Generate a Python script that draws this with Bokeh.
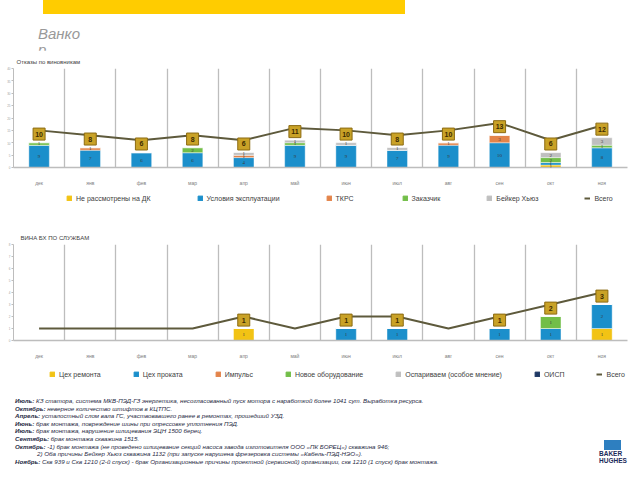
from bokeh.plotting import figure
from bokeh.models import ColumnDataSource, Range1d, FixedTicker, LabelSet, Legend, LegendItem, Div
from bokeh.core.properties import value
from bokeh.layouts import column
from bokeh.embed import file_html
from bokeh.resources import INLINE

FONT = "Liberation Sans"
NAN = float("nan")

months = ["дек", "янв", "фев", "мар", "апр", "май", "июн", "июл", "авг", "сен", "окт", "ноя"]

# ---- Top chart: Отказы по виновникам ----
top_title = "Отказы по виновникам"
top_names = ["Не рассмотрены на ДК", "Условия эксплуатации", "ТКРС", "Заказчик", "Бейкер Хьюз"]
top_ne_rassm = [0, 0, 0, 0, 0, 0, 0, 0, 0, 0, 1, 0]
top_usloviya = [9, 7, 6, 6, 4, 9, 9, 7, 9, 10, 1, 8]
top_tkrs = [0, 1, 0, 0, 1, 0, 0, 0, 1, 3, 0, 0]
top_zakazchik = [1, 0, 0, 2, 0, 1, 0, 0, 0, 0, 2, 1]
top_baker = [0, 0, 0, 0, 1, 1, 1, 1, 0, 0, 2, 3]
top_total = [10, 8, 6, 8, 6, 11, 10, 8, 10, 13, 6, 12]
top_colors = ["#F2C314", "#1B8FCB", "#E3844A", "#72BE48", "#BFBFBF"]

# ---- Bottom chart: ВИНА БХ ПО СЛУЖБАМ ----
bot_title = "ВИНА БХ ПО СЛУЖБАМ"
bot_names = ["Цех ремонта", "Цех проката", "Импульс", "Новое оборудование",
             "Оспариваем (особое мнение)", "ОИСП"]
bot_remont = [0, 0, 0, 0, 1, 0, 0, 0, 0, 0, 0, 1]
bot_prokat = [0, 0, 0, 0, 0, 0, 1, 1, 0, 1, 1, 2]
bot_impuls = [0, 0, 0, 0, 0, 0, 0, 0, 0, 0, 0, 0]
bot_novoe = [0, 0, 0, 0, 0, 0, 0, 0, 0, 0, 1, 0]
bot_osparivaem = [0, 0, 0, 0, 0, 0, 0, 0, 0, 0, 0, 0]
bot_oisp = [0, 0, 0, 0, 0, 0, 0, 0, 0, 0, 0, 0]
bot_total = [0, 0, 0, 0, 1, 0, 1, 1, 0, 1, 2, 3]
bot_colors = ["#F2C314", "#1B8FCB", "#E3844A", "#72BE48", "#BFBFBF", "#1F3864"]

LINE_COLOR = "#5E5A3C"

notes = [
    ("Июль:", " КЗ статора, система МКВ-ПЭД-ГЗ энергетика, несогласованный пуск мотора с наработкой более 1041 сут. Выработка ресурса."),
    ("Октябрь:", " неверное количество штифтов в КЦТПС."),
    ("Апрель:", " усталостный слом вала ГС, участвовавшего ранее в ремонтах, прошедший УЗД."),
    ("Июнь:", " брак монтажа, повреждение шины при опрессовке уплотнения ПЭД."),
    ("Июль:", " брак монтажа, нарушение шлицевания ЭЦН 1500 берец."),
    ("Сентябрь:", " брак монтажа скважина 1515."),
    ("Октябрь:", " -1) брак монтажа (не проведено шлицевание секций насоса завода изготовителя ООО «ПК БОРЕЦ») скважина 946;"),
    ("", "2) Оба причины Бейкер Хьюз скважина 1132 (при запуске нарушена фрезеровка системы «Кабель-ПЭД-НЭО»)."),
    ("Ноябрь:", " Скв 939 и Скв 1210 (2-й спуск) - брак Организационные причины проектной (сервисной) организации, скв 1210 (1 спуск) брак монтажа."),
]

W = 632


def make_chart(title, series, colors, total, ymax, ystep, line_offset,
               height, top_border, bottom_border, title_size, title_offset):
    x = list(range(len(months)))
    data = {"x": x, "total": total}
    keys = []
    for k, s in enumerate(series):
        data["s%d" % k] = s
        keys.append("s%d" % k)
    src = ColumnDataSource(data)

    p = figure(width=W, height=height, x_range=Range1d(-0.5, len(months) - 0.5),
               y_range=Range1d(0, ymax), output_backend="svg", toolbar_location=None,
               min_border_left=13, min_border_right=5, min_border_top=top_border,
               min_border_bottom=bottom_border, outline_line_color=None, margin=0)
    shift = ystep * 0.3
    p.extra_y_ranges = {"line": Range1d(-line_offset, ymax - line_offset),
                        "lbl": Range1d(-line_offset + shift, ymax - line_offset + shift)}

    p.title.text = title
    p.title.text_font = FONT
    p.title.text_font_size = title_size
    p.title.text_font_style = "normal"
    p.title.text_color = "#404040"
    p.title.align = "left"
    p.title.offset = title_offset
    p.title.standoff = 8

    p.ygrid.visible = False
    p.xgrid.ticker = FixedTicker(ticks=[i + 0.5 for i in range(len(months) - 1)])
    p.xgrid.grid_line_color = "#BDBDBD"
    p.xgrid.grid_line_width = 1.3

    p.xaxis.ticker = FixedTicker(ticks=x)
    p.xaxis.major_label_overrides = {i: m for i, m in enumerate(months)}
    p.xaxis.major_tick_line_color = None
    p.xaxis.minor_tick_line_color = None
    p.xaxis.axis_line_color = "#BDBDBD"
    p.xaxis.axis_line_width = 1.3
    p.xaxis.major_label_text_font = FONT
    p.xaxis.major_label_text_font_size = "5px"
    p.xaxis.major_label_text_color = "#808080"
    p.xaxis.major_label_standoff = 6

    p.yaxis.ticker = FixedTicker(ticks=list(range(0, ymax + 1, ystep)))
    p.yaxis.axis_line_color = "#BDBDBD"
    p.yaxis.major_tick_line_color = "#BDBDBD"
    p.yaxis.major_tick_out = 2
    p.yaxis.major_tick_in = 0
    p.yaxis.minor_tick_line_color = None
    p.yaxis.major_label_text_font = FONT
    p.yaxis.major_label_text_font_size = "3px"
    p.yaxis.major_label_text_color = "#A0A0A0"
    p.yaxis.major_label_standoff = 1

    p.vbar_stack(keys, x="x", width=0.4, color=colors, source=src,
                 line_color="white", line_width=0.4)
    p.line("x", "total", source=src, y_range_name="line",
           line_color=LINE_COLOR, line_width=2)

    # segment value labels
    sx, sy, st = [], [], []
    base = [0] * len(months)
    for s in series:
        for i, v in enumerate(s):
            if v > 0:
                sx.append(i)
                sy.append(base[i] + v / 2)
                st.append(str(v))
            base[i] += v
    seg_src = ColumnDataSource(dict(x=sx, y=sy, t=st))
    p.add_layout(LabelSet(x="x", y="y", text="t", source=seg_src,
                          text_align="center", text_baseline="middle",
                          text_font=FONT, text_font_size="5px", text_color="#3A3A3A"))

    # total labels (gold boxes)
    tx = [i for i, t in enumerate(total) if t > 0]
    ty = [t for t in total if t > 0]
    tt = [str(t) for t in total if t > 0]
    tot_src = ColumnDataSource(dict(x=tx, y=ty, t=tt))
    p.rect(x="x", y="y", width=12, height=12, width_units="screen", height_units="screen",
           source=tot_src, y_range_name="lbl", fill_color="#C9A227",
           line_color="#8C6B12", line_width=1)
    p.text(x="x", y="y", text="t", source=tot_src, y_range_name="lbl",
           text_align="center", text_baseline="middle", text_font=value(FONT),
           text_font_size="7px", text_font_style="bold", text_color="#3D2B00")
    return p


def make_legend(names, colors, height, loc, spacing):
    lp = figure(width=W, height=height, x_range=Range1d(0, 1), y_range=Range1d(0, 1),
                output_backend="svg", toolbar_location=None, min_border=0,
                x_axis_location=None, y_axis_location=None, outline_line_color=None,
                margin=0)
    lp.grid.visible = False
    items = []
    for n, c in zip(names, colors):
        # legend proxy with a single undefined row (draws nothing in the plot)
        r = lp.vbar(x=[NAN], top=[NAN], width=0.1, color=c)
        items.append(LegendItem(label=n, renderers=[r]))
    lr = lp.line(x=[NAN], y=[NAN], line_color=LINE_COLOR, line_width=2)
    items.append(LegendItem(label="Всего", renderers=[lr]))
    legend = Legend(items=items, orientation="horizontal", location=loc,
                    label_text_font=FONT, label_text_font_size="7px",
                    label_text_color="#404040", glyph_width=6, glyph_height=6,
                    label_standoff=4, spacing=spacing, padding=2,
                    border_line_color=None, background_fill_alpha=0, label_height=8)
    lp.add_layout(legend)
    return lp


top = make_chart(top_title,
                 [top_ne_rassm, top_usloviya, top_tkrs, top_zakazchik, top_baker],
                 top_colors, top_total, 40, 5, 5, 138, 18, 16, "6px", 3)
top_leg = make_legend(top_names, top_colors, 32, (53, 18), 46)
bottom = make_chart(bot_title,
                    [bot_remont, bot_prokat, bot_impuls, bot_novoe, bot_osparivaem, bot_oisp],
                    bot_colors, bot_total, 8, 1, 1, 141, 24, 15, "6px", 7)
bot_leg = make_legend(bot_names, bot_colors, 27, (36, 10), 32)

header = Div(width=W, height=50, margin=0, text=(
    '<div style="position:relative;width:632px;height:50px;">'
    '<div style="position:absolute;left:43px;top:0px;width:362px;height:14px;background:#FFCC00;"></div>'
    '<div style="position:absolute;left:38px;top:26px;width:44px;word-break:break-all;'
    'font-family:\'Liberation Sans\';font-style:italic;font-size:15px;line-height:16px;color:#999999;">Ванкор</div>'
    '</div>'))

lines_html = []
for k, (b, t) in enumerate(notes):
    left = 37 if b == "" else 15
    top_px = 9 + 7.6 * k
    lines_html.append(
        '<div style="position:absolute;left:%dpx;top:%.1fpx;white-space:nowrap;">'
        '<b>%s</b>%s</div>' % (left, top_px, b, t))
notes_div = Div(width=W, height=84, margin=0, text=(
    '<div style="position:relative;width:632px;height:84px;font-family:\'Liberation Sans\';'
    'font-style:italic;font-size:6.2px;line-height:7px;color:#1F2A44;">'
    + "".join(lines_html) +
    '<div style="position:absolute;left:604px;top:52px;width:17px;height:10px;background:#2E7FC0;"></div>'
    '<div style="position:absolute;left:599px;top:63px;font-style:normal;font-weight:bold;'
    'font-size:6.5px;line-height:6.5px;color:#1B2A5A;">BAKER<br>HUGHES</div>'
    '</div>'))

layout = column(header, top, top_leg, bottom, bot_leg, notes_div, spacing=0)

with open("out.html", "w") as f:
    f.write(file_html(layout, INLINE))
